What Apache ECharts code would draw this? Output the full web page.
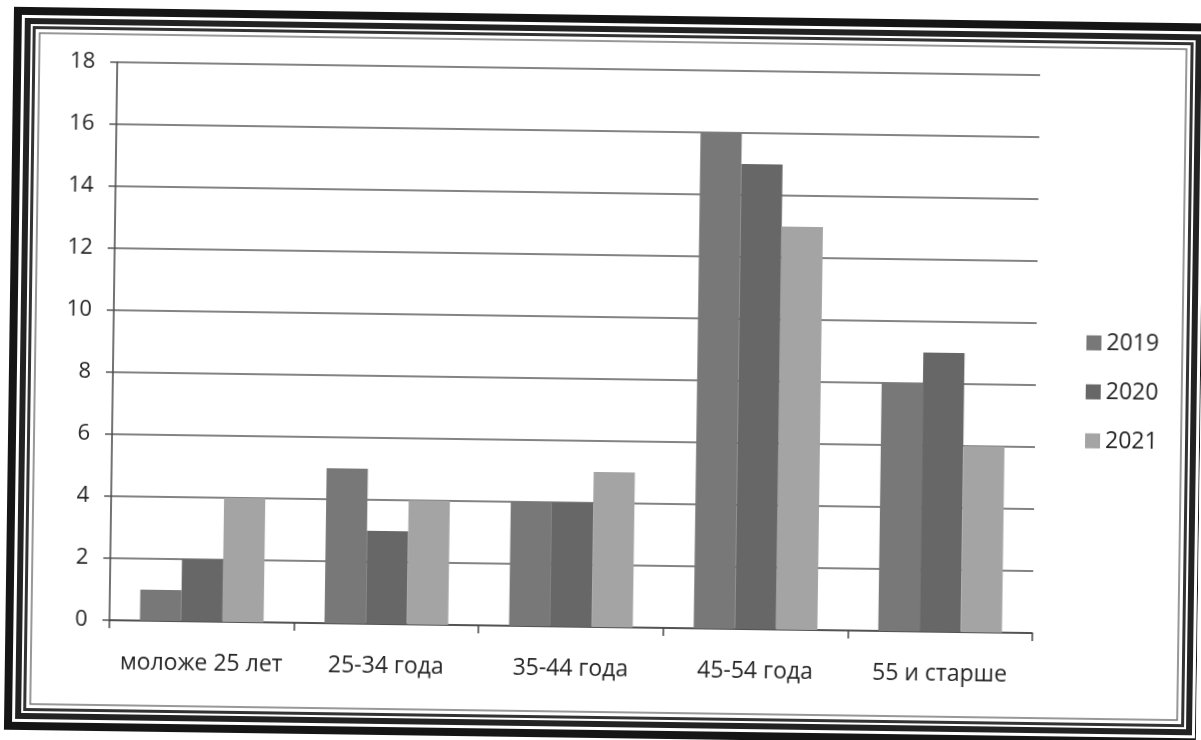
<!DOCTYPE html>
<html>
<head>
<meta charset="utf-8">
<script src="https://cdn.jsdelivr.net/npm/echarts@6/dist/echarts.min.js"></script>
<style>
html,body{margin:0;padding:0;background:#fff;overflow:hidden;}
#chart{width:1201px;height:740px;transform:rotate(0.8deg);transform-origin:600px 370px;}
</style>
</head>
<body>
<div id="chart"></div>
<script>
var categories = ['моложе 25 лет', '25-34 года', '35-44 года', '45-54 года', '55 и старше'];
var seriesNames = ['2019', '2020', '2021'];
var values2019 = [1, 5, 4, 16, 8];
var values2020 = [2, 3, 4, 15, 9];
var values2021 = [4, 4, 5, 13, 6];
var yTicks = [0, 2, 4, 6, 8, 10, 12, 14, 16, 18];

var colors = ['#787878', '#676767', '#a4a4a4'];
var font = '"Open Sans", "Noto Sans", sans-serif';

function frameRect(inset, w, color) {
  return {
    type: 'rect',
    shape: {x: 13 + inset, y: 19 + inset, width: 1191 - 2 * inset, height: 715 - 2 * inset},
    style: {fill: null, stroke: color, lineWidth: w},
    silent: true
  };
}

var chart = echarts.init(document.getElementById('chart'));
chart.setOption({
  backgroundColor: '#ffffff',
  animation: false,
  color: colors,
  graphic: [
    frameRect(0, 8, '#151515'),
    frameRect(10, 6, '#222222'),
    frameRect(16.5, 3, '#333333'),
    frameRect(22, 1.5, '#777777')
  ],
  grid: {left: 113, right: 165, top: 69, bottom: 113, containLabel: false},
  legend: {
    orient: 'vertical',
    left: 1081,
    top: 319,
    itemWidth: 15,
    itemHeight: 15,
    itemGap: 25,
    icon: 'rect',
    data: seriesNames,
    textStyle: {fontFamily: font, fontSize: 23, color: '#262626', lineHeight: 24}
  },
  xAxis: {
    type: 'category',
    data: categories,
    axisLine: {lineStyle: {color: '#444', width: 1.5}},
    axisTick: {show: true, length: 8, lineStyle: {color: '#444', width: 1.5}},
    axisLabel: {interval: 0, fontFamily: font, fontSize: 23, color: '#262626', margin: 31}
  },
  yAxis: {
    type: 'value',
    min: yTicks[0],
    max: yTicks[yTicks.length - 1],
    interval: yTicks[1] - yTicks[0],
    axisLine: {show: true, lineStyle: {color: '#444', width: 1.5}},
    axisTick: {show: true, inside: false, length: 7, lineStyle: {color: '#555', width: 1.5}},
    axisLabel: {fontFamily: font, fontSize: 22, color: '#262626', margin: 22},
    splitLine: {show: true, lineStyle: {color: '#5a5a5a', width: 1.5}}
  },
  series: [
    {name: seriesNames[0], type: 'bar', data: values2019, barGap: '0%', barCategoryGap: '33%'},
    {name: seriesNames[1], type: 'bar', data: values2020, barGap: '0%', barCategoryGap: '33%'},
    {name: seriesNames[2], type: 'bar', data: values2021, barGap: '0%', barCategoryGap: '33%'}
  ]
});
</script>
</body>
</html>
